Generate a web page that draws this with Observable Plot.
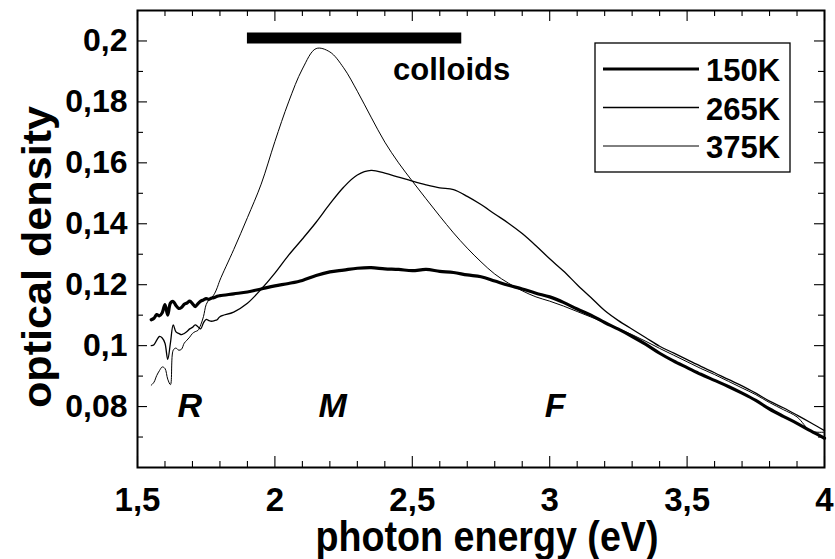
<!DOCTYPE html>
<html>
<head>
<meta charset="utf-8">
<script src="https://cdn.jsdelivr.net/npm/d3@7"></script>
<script src="https://cdn.jsdelivr.net/npm/@observablehq/plot@0.6"></script>
<style>
  html, body { margin: 0; padding: 0; background: #fff; }
</style>
</head>
<body>
<script>
// Photon energy grid (eV): fine steps in the noisy red end, 0.05 eV above 1.8 eV
const energy = [
  1.55, 1.56, 1.57, 1.58, 1.59, 1.60, 1.61, 1.62, 1.63, 1.64, 1.65, 1.66, 1.67,
  1.68, 1.69, 1.70, 1.71, 1.72, 1.73, 1.74, 1.75, 1.76, 1.77, 1.78, 1.79, 1.80,
  1.85, 1.90, 1.95, 2.00, 2.05, 2.10, 2.15, 2.20, 2.25, 2.30, 2.35, 2.40, 2.45,
  2.50, 2.55, 2.60, 2.65, 2.70, 2.75, 2.80, 2.85, 2.90, 2.95, 3.00, 3.05, 3.10,
  3.15, 3.20, 3.25, 3.30, 3.35, 3.40, 3.45, 3.50, 3.55, 3.60, 3.65, 3.70, 3.75,
  3.80, 3.85, 3.90, 3.95, 4.00
];

// Optical density spectra
const od150K = [
  0.1085, 0.1090, 0.1102, 0.1098, 0.1108, 0.1135, 0.1100, 0.1140, 0.1145, 0.1132, 0.1122, 0.1125, 0.1136,
  0.1140, 0.1146, 0.1138, 0.1128, 0.1138, 0.1146, 0.1150, 0.1154, 0.1152, 0.1156, 0.1158, 0.1162, 0.1164,
  0.1170, 0.1176, 0.1186, 0.1196, 0.1204, 0.1214, 0.1230, 0.1242, 0.1248, 0.1254, 0.1256, 0.1252, 0.1250,
  0.1246, 0.1250, 0.1244, 0.1240, 0.1232, 0.1226, 0.1212, 0.1198, 0.1186, 0.1172, 0.1160, 0.1142, 0.1120,
  0.1100, 0.1076, 0.1054, 0.1030, 0.1004, 0.0975, 0.0950, 0.0928, 0.0906, 0.0886, 0.0866, 0.0844, 0.0820,
  0.0792, 0.0768, 0.0745, 0.0720, 0.0696
];
const od265K = [
  0.1000, 0.1003, 0.1018, 0.1030, 0.1025, 0.1008, 0.0955, 0.1010, 0.1068, 0.1045, 0.1040, 0.1036, 0.1040,
  0.1046, 0.1055, 0.1060, 0.1068, 0.1062, 0.1055, 0.1075, 0.1086, 0.1082, 0.1080, 0.1082, 0.1085, 0.1095,
  0.1110, 0.1139, 0.1185, 0.1238, 0.1297, 0.1350, 0.1405, 0.1465, 0.1520, 0.1560, 0.1575, 0.1566, 0.1553,
  0.1540, 0.1528, 0.1518, 0.1512, 0.1490, 0.1463, 0.1432, 0.1402, 0.1368, 0.1328, 0.1285, 0.1245, 0.1200,
  0.1158, 0.1115, 0.1082, 0.1054, 0.1026, 0.0998, 0.0976, 0.0954, 0.0932, 0.0911, 0.0889, 0.0868, 0.0844,
  0.0818, 0.0796, 0.0772, 0.0747, 0.0721
];
const od375K = [
  0.0870, 0.0880, 0.0902, 0.0918, 0.0930, 0.0925, 0.0890, 0.0872, 0.0985, 0.0992, 0.0985, 0.0988, 0.1008,
  0.1018, 0.1028, 0.1040, 0.1046, 0.1050, 0.1068, 0.1095, 0.1135, 0.1150, 0.1158, 0.1170, 0.1190, 0.1215,
  0.1315, 0.1420, 0.1530, 0.1670, 0.1800, 0.1908, 0.1975, 0.1964, 0.1912, 0.1835, 0.1750, 0.1668, 0.1600,
  0.1540, 0.1482, 0.1425, 0.1370, 0.1320, 0.1275, 0.1235, 0.1205, 0.1180, 0.1160, 0.1146, 0.1130, 0.1112,
  0.1094, 0.1075, 0.1056, 0.1036, 0.1014, 0.0991, 0.0969, 0.0947, 0.0925, 0.0905, 0.0883, 0.0861, 0.0839,
  0.0813, 0.0790, 0.0766, 0.0720, 0.0716
];

const temperatures = ["150K", "265K", "375K"];
const spectra = [od150K, od265K, od375K];

// Axis ticks and labels
const xTicks = [1.5, 2, 2.5, 3, 3.5, 4];
const yTicks = [0.08, 0.1, 0.12, 0.14, 0.16, 0.18, 0.2];
const xLabel = "photon energy (eV)";
const yLabel = "optical density";

// Annotations: colloid absorption range and the colour-centre bands
const colloidRange = [1.9, 2.68];
const colloidLevel = 0.201;
const colloidText = "colloids";
const bandNames = ["R", "M", "F"];
const bandEnergy = [1.69, 2.21, 3.02];
const bandLevel = 0.08;

// Line styles per temperature
const lineWidth = {"150K": 3.2, "265K": 1.3, "375K": 1};

const rows = temperatures.flatMap((t, k) =>
  energy.map((e, i) => ({temperature: t, energy: e, od: spectra[k][i]}))
);

const fmt = d => String(d).replace(".", ",");
const isMajorX = v => Math.abs(v * 2 - Math.round(v * 2)) < 1e-6;
const isMajorY = v => Math.abs(v * 50 - Math.round(v * 50)) < 1e-6;
const xMinor = d3.range(1.6, 3.95, 0.1).filter(v => !isMajorX(v));
const yMinor = d3.range(0.07, 0.2, 0.01).filter(v => !isMajorY(v));

const W = 835, H = 559;
const mL = 137, mR = 11, mT = 10, mB = 92;
const innerW = W - mL - mR, innerH = H - mT - mB;

const tickStyle = {stroke: "black", strokeWidth: 1.1};
const xTicksMarks = (vals, len) => [
  Plot.tickX(vals, {x: d => d, insetTop: innerH - len, ...tickStyle}),
  Plot.tickX(vals, {x: d => d, insetBottom: innerH - len, ...tickStyle})
];
const yTicksMarks = (vals, len) => [
  Plot.tickY(vals, {y: d => d, insetRight: innerW - len, ...tickStyle}),
  Plot.tickY(vals, {y: d => d, insetLeft: innerW - len, ...tickStyle})
];

const chart = Plot.plot({
  width: W,
  height: H,
  marginLeft: mL,
  marginRight: mR,
  marginTop: mT,
  marginBottom: mB,
  style: {
    fontFamily: "'Liberation Sans', Arial, Helvetica, sans-serif",
    fontWeight: "bold",
    color: "black",
    background: "white"
  },
  x: {domain: [1.5, 4]},
  y: {domain: [0.06, 0.21]},
  marks: [
    ...xTicksMarks(xTicks, 11),
    ...xTicksMarks(xMinor, 6),
    ...yTicksMarks(yTicks, 10),
    ...yTicksMarks(yMinor, 6),
    Plot.axisX({ticks: xTicks, tickSize: 0, tickPadding: 20, fontSize: 33, tickFormat: fmt, label: null}),
    Plot.axisY({ticks: yTicks, tickSize: 0, tickPadding: 10, fontSize: 32, tickFormat: fmt, label: null}),
    ...temperatures.map(t =>
      Plot.line(rows.filter(d => d.temperature === t), {
        x: "energy", y: "od", stroke: "black",
        strokeWidth: lineWidth[t], curve: "catmull-rom"
      })
    ),
    Plot.ruleY([colloidLevel], {x1: colloidRange[0], x2: colloidRange[1], stroke: "black", strokeWidth: 11, strokeLinecap: "butt"}),
    Plot.text([colloidText], {x: 2.43, y: 0.1906, text: d => d, textAnchor: "start", lineAnchor: "middle", fontSize: 31}),
    Plot.text(bandNames, {x: (d, i) => bandEnergy[i], y: bandLevel, text: d => d, lineAnchor: "middle", fontSize: 34, fontStyle: "italic"}),
    Plot.text([xLabel], {frameAnchor: "bottom", text: d => d, textAnchor: "middle", lineAnchor: "middle", dx: 6, dy: 70, fontSize: 42}),
    Plot.text([yLabel], {frameAnchor: "left", text: d => d, textAnchor: "middle", lineAnchor: "middle", rotate: -90, dx: -100, dy: 18, fontSize: 41}),
    Plot.frame({stroke: "black", strokeWidth: 2})
  ]
});

// Axis titles are set to a fixed drawn length
const svg = d3.select(chart);
svg.selectAll("text").filter(function () { return this.textContent === xLabel; })
  .attr("textLength", 343).attr("lengthAdjust", "spacingAndGlyphs");
svg.selectAll("text").filter(function () { return this.textContent === yLabel; })
  .attr("textLength", 302).attr("lengthAdjust", "spacingAndGlyphs");

// Legend box in the upper right corner
const legend = svg.append("g")
  .attr("font-family", "'Liberation Sans', Arial, Helvetica, sans-serif")
  .attr("font-weight", "bold")
  .attr("font-size", 31)
  .attr("text-anchor", "start");
legend.append("rect")
  .attr("x", 595).attr("y", 43).attr("width", 195).attr("height", 129)
  .attr("fill", "white").attr("stroke", "black").attr("stroke-width", 1.3);
temperatures.forEach((t, i) => {
  const cy = 69 + i * 38.5;
  legend.append("line")
    .attr("x1", 603).attr("x2", 699).attr("y1", cy).attr("y2", cy)
    .attr("stroke", "black").attr("stroke-width", lineWidth[t]);
  legend.append("text")
    .attr("x", 706).attr("y", cy + 12)
    .attr("text-anchor", "start")
    .attr("fill", "black")
    .text(t);
});

document.body.append(chart);
</script>
</body>
</html>
